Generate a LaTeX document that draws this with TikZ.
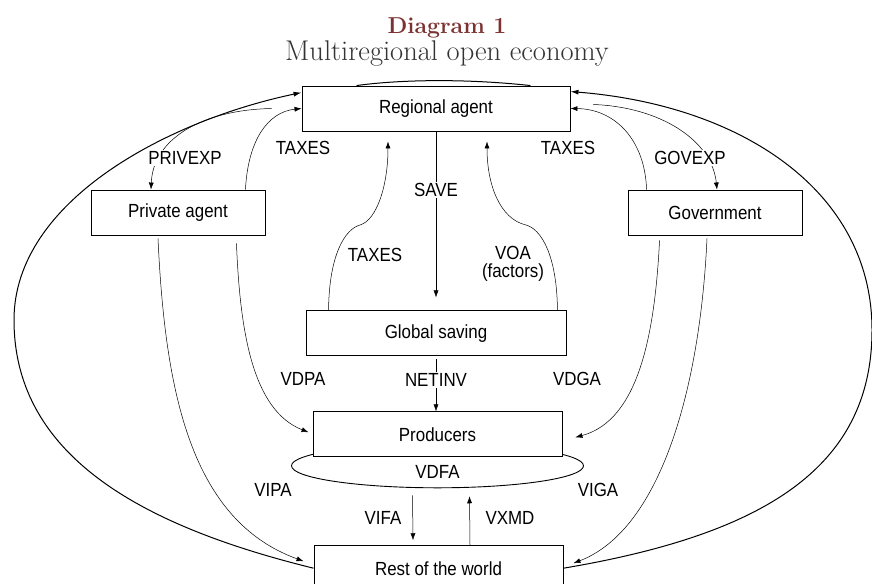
\documentclass[tikz,border=0pt]{standalone}
\usepackage{fontspec}
\usetikzlibrary{arrows.meta,positioning,shapes.geometric,backgrounds}
\newfontfamily\flowfont{Liberation Sans}[FakeStretch=0.89]
\definecolor{titleRed}{HTML}{7D3232}
\definecolor{titleGrey}{HTML}{333333}

\begin{document}
\begin{tikzpicture}[x=1bp,y=-1bp,every node/.style={font=\flowfont\fontsize{19bp}{18bp}\selectfont}]
  \tikzstyle{agent}=[draw,line width=0.9bp,fill=white,minimum height=45bp,inner sep=0pt]
  \tikzstyle{flow}=[line width=0.5bp,-{Latex[length=7bp,width=5bp]}]
  \tikzstyle{bigloop}=[line width=1bp,-{Latex[length=8bp,width=5bp]}]
  \tikzstyle{lbl}=[inner sep=1bp]
  \tikzstyle{lblcut}=[fill=white,inner sep=1bp]
  \useasboundingbox (0,0) rectangle (872,584);
  % title
  \node[anchor=base,font=\bfseries\fontsize{23bp}{25bp}\selectfont,text=titleRed] (ttl) at (447,34) {Diagram 1};
  \node[anchor=base,font=\fontsize{28.5bp}{30bp}\selectfont,text=titleGrey] (subttl) at (447,61) {Multiregional open economy};
  % agents
  \node[agent,minimum width=268bp] (ra) at (436,108.5) {Regional agent};
  \node[agent,minimum width=174bp] (pa) at (178,212.5) {Private agent};
  \node[agent,minimum width=174bp] (gov) at (715,212.5) {Government};
  \node[agent,minimum width=260bp,below=179bp of ra] (gs) {Global saving};
  \node[agent,minimum width=249bp,below=55bp of gs,xshift=1.5bp] (pr) {Producers};
  \node[agent,minimum width=249bp,below=88bp of pr,xshift=1bp] (rw) {Rest of the world};
  \begin{scope}[on background layer]
    \node[ellipse,draw,line width=0.9bp,minimum width=292bp,minimum height=44bp,inner sep=0pt] (vdfa) at ([yshift=-31.5bp]pr.center) {};
    % outer loops
    \draw[bigloop] (rw.west) .. controls (150,528) and (14,460) .. (14,320)
      .. controls (14,200) and (170,120) .. ([yshift=-7bp]ra.north west);
    \draw[bigloop] (rw.east) .. controls (760,535) and (872,470) .. (872,330)
      .. controls (872,190) and (740,105) .. ([yshift=-6bp]ra.north east);
    \draw[line width=1bp] ([xshift=55bp]ra.north west) .. controls (405,79) and (470,79) .. ([xshift=-40bp]ra.north east);
  \end{scope}
  \node (vdfat) at ([yshift=-6bp]vdfa.center) {VDFA};
  % flows round the regional agent
  \draw[flow] ([xshift=-30bp]ra.west) .. controls (200,110) and (153,140) .. ([xshift=-27bp]pa.north);
  \node[lblcut] (privexp) at (185,158) {PRIVEXP};
  \draw[flow] ([xshift=-20bp]pa.north east) .. controls (248,140) and (268,112) .. (ra.west);
  \node[lbl] (taxpa) at (303,148) {TAXES};
  \draw[flow] (ra.south) -- ([yshift=13bp]gs.north);
  \node[lblcut] (save) at (436,190) {SAVE};
  \draw[flow] ([xshift=23bp]gs.north west) .. controls (329,255) and (345,229) .. (360,225)
    .. controls (377,220) and (388,185) .. ([xshift=-48bp,yshift=-10bp]ra.south);
  \node[lbl] (taxgs) at (375,255) {TAXES};
  \draw[flow] ([xshift=-9bp]gs.north east) .. controls (557,255) and (541,229) .. (526,225)
    .. controls (500,219) and (487,185) .. ([xshift=51bp,yshift=-10bp]ra.south);
  \node[inner sep=0pt,align=center] (voa) at (513,264) {VOA\\(factors)};
  \draw[flow] ([xshift=19bp]gov.north west) .. controls (645,140) and (615,109) .. (ra.east);
  \node[lbl] (taxgov) at (568,148) {TAXES};
  \draw[flow] ([xshift=23bp,yshift=4bp]ra.east) .. controls (660,107) and (712,140) .. ([xshift=2bp]gov.north);
  \node[lblcut] (govexp) at (690,158) {GOVEXP};
  % flows to producers and the rest of the world
  \draw[flow] ([yshift=-3bp]gs.south) -- (gs.south |- pr.north);
  \node[lblcut] (netinv) at (436,380) {NETINV};
  \draw[flow] ([xshift=-29bp,yshift=-8bp]pa.south east) .. controls (240,330) and (252,410) .. ([xshift=-4bp,yshift=2bp]pr.west);
  \node[lbl] (vdpa) at (303,379) {VDPA};
  \draw[flow] ([xshift=-20bp,yshift=-3bp]pa.south) .. controls (165,390) and (190,520) .. ([xshift=-10bp,yshift=7bp]rw.west);
  \node[lbl] (vipa) at (273,490) {VIPA};
  \draw[flow] ([xshift=32bp,yshift=-5bp]gov.south west) .. controls (655,330) and (640,420) .. ([xshift=13bp,yshift=-3bp]pr.east);
  \node[lbl] (vdga) at (577,379) {VDGA};
  \draw[flow] ([xshift=-8bp,yshift=-3bp]gov.south) .. controls (700,390) and (660,530) .. ([xshift=10bp,yshift=5bp]rw.east);
  \node[lbl] (viga) at (598,490) {VIGA};
  \draw[flow] ([xshift=-25bp,yshift=-7bp]vdfa.south) -- ([xshift=-25.5bp,yshift=5bp]rw.north);
  \node[lbl] (vifa) at (383,518) {VIFA};
  \draw[flow] ([xshift=31.5bp]rw.north) -- ([xshift=32bp,yshift=-8bp]vdfa.south);
  \node[lbl] (vxmd) at (510,518) {VXMD};
\end{tikzpicture}
\end{document}
